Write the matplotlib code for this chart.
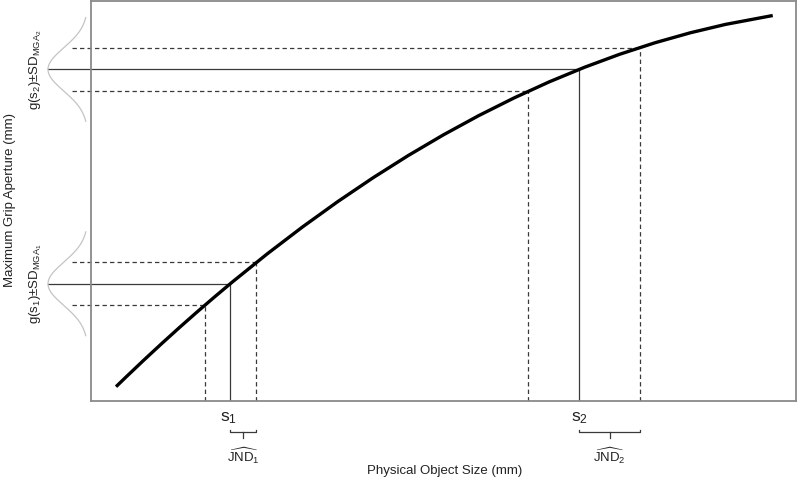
import numpy as np
import matplotlib
matplotlib.use('Agg')
import matplotlib.pyplot as plt

plt.rcParams['font.family'] = ['Liberation Sans', 'DejaVu Sans']
plt.rcParams['mathtext.fontset'] = 'custom'
plt.rcParams['mathtext.rm'] = 'Liberation Sans'
plt.rcParams['mathtext.it'] = 'Liberation Sans'
plt.rcParams['mathtext.bf'] = 'Liberation Sans:bold'

# curve g(s) (axis units 0-100)
size_mm = [3.55, 5, 7.5, 10, 12.5, 15, 17.5, 20, 25, 30, 35, 40, 45, 50, 55, 60,
           65, 70, 75, 80, 85, 90, 96.7]
mga_mm = [3.58, 6.05, 10.23, 14.31, 18.30, 22.19, 25.98, 29.68, 36.79, 43.51,
          49.85, 55.80, 61.37, 66.55, 71.35, 75.76, 79.79, 83.43, 86.69, 89.56,
          92.05, 94.15, 96.37]

# the two stimuli
s_vals = [19.7, 69.2]
g_vals = [29.3, 82.9]
sd_mga = [5.4, 5.4]
s_lo = [16.2, 62.0]   # where g - SD meets the curve
s_hi = [23.4, 77.9]   # where g + SD meets the curve
s_labels = ['$\\mathregular{s_1}$', '$\\mathregular{s_2}$']
jnd_labels = ['$\\widehat{\\mathregular{JND}}_\\mathregular{1}$',
              '$\\widehat{\\mathregular{JND}}_\\mathregular{2}$']
g_labels = ['g(s$_\\mathregular{1}$)±SD$_\\mathregular{MGA_1}$',
            'g(s$_\\mathregular{2}$)±SD$_\\mathregular{MGA_2}$']

line_col = '#3a3a3a'
dash = (0, (3.5, 2.5))

fig = plt.figure(figsize=(8, 4.95), dpi=100)
ax = fig.add_axes([91 / 800, 1 - 401 / 495, 705 / 800, 400 / 495])
ax.set_xlim(0, 100)
ax.set_ylim(0, 100)
ax.set_xticks([])
ax.set_yticks([])
for sp in ax.spines.values():
    sp.set_color('#8a8a8a')
    sp.set_linewidth(1.3)

ax.plot(size_mm, mga_mm, color='black', lw=2.4, solid_capstyle='butt',
        solid_joinstyle='round', zorder=5)

for i in range(2):
    s, g, sd = s_vals[i], g_vals[i], sd_mga[i]
    # solid guide lines
    ax.plot([-6.1, s], [g, g], color=line_col, lw=0.9, clip_on=False)
    ax.plot([s, s], [0, g], color=line_col, lw=0.9)
    # dashed +-SD lines
    for yv, xv in [(g - sd, s_lo[i]), (g + sd, s_hi[i])]:
        ax.plot([-2.7, xv], [yv, yv], color=line_col, lw=0.9, ls=dash, clip_on=False)
        ax.plot([xv, xv], [0, yv], color=line_col, lw=0.9, ls=dash)
    # gaussian on the y axis
    yy = np.linspace(g - 2.4 * sd, g + 2.4 * sd, 200)
    dens = np.exp(-0.5 * ((yy - g) / sd) ** 2)
    ax.plot(-0.43 - 5.67 * dens, yy, color='#c4c4c4', lw=0.9, clip_on=False)
    # labels
    ax.text(-7.9, g, g_labels[i], rotation=90, ha='center', va='center',
            fontsize=9.5, color='#222222', clip_on=False)
    ax.text(s + [-0.2, 0.1][i], -2.4, s_labels[i], ha='center', va='top',
            fontsize=12.5, color='#222222')
    # bracket for the JND
    yb = -7.7
    ax.plot([s, s, s_hi[i], s_hi[i]], [yb + 0.5, yb, yb, yb + 0.5],
            color=line_col, lw=0.9, clip_on=False)
    mid = (s + s_hi[i]) / 2
    ax.plot([mid, mid], [yb, yb - 1.6], color=line_col, lw=0.9, clip_on=False)
    ax.text(mid, -13.6, jnd_labels[i], ha='center', va='center', fontsize=9.5,
            color='#222222')

fig.text(445 / 800, 1 - 471 / 495, 'Physical Object Size (mm)', ha='center',
         va='center', fontsize=9.5, color='#222222')
fig.text(10 / 800, 1 - 200 / 495, 'Maximum Grip Aperture (mm)', ha='center',
         va='center', rotation=90, fontsize=9.5, color='#222222')

fig.savefig('out.png', dpi=100)
